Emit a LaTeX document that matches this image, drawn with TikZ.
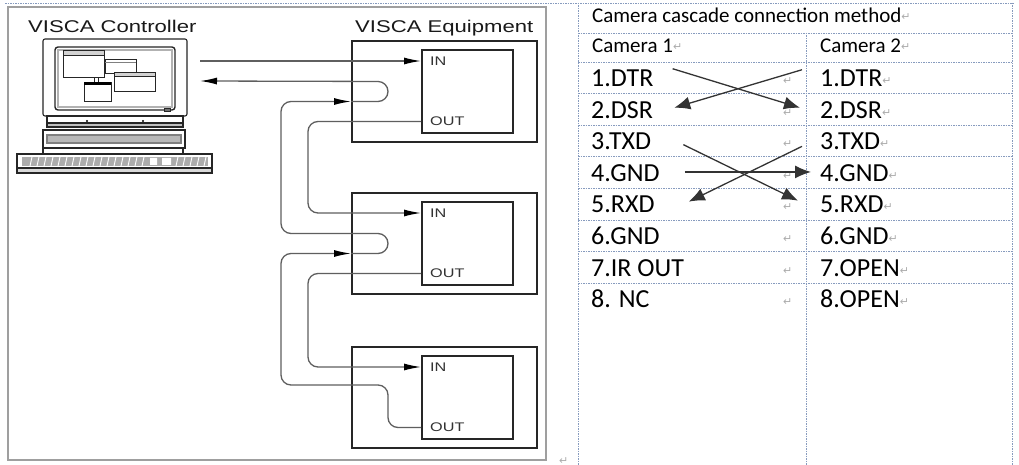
\documentclass[tikz,border=0pt]{standalone}
\usepackage{fontspec}
\usepackage{tikz}
\usetikzlibrary{arrows.meta,backgrounds}
\newfontfamily\visca[FakeStretch=1.3]{Liberation Sans}
\newfontfamily\cali{Carlito}
\newfontfamily\dejavu{DejaVu Sans}
\definecolor{gridblue}{RGB}{135,155,190}
\definecolor{wiregray}{RGB}{95,95,95}
\newcommand{\parmark}{\raisebox{2pt}{\dejavu\fontsize{11}{12}\selectfont\color{gray!65}↵}}

\tikzset{
  equip/.style={draw=black!85, line width=2pt, minimum width=185pt, minimum height=101pt, inner sep=0pt},
  inbox/.style={draw=black!85, line width=2pt, minimum width=91pt, minimum height=83pt, inner sep=0pt},
  port/.style={font=\visca\fontsize{12.5}{14}\selectfont, text=black!80, inner sep=0pt, anchor=west},
  vtitle/.style={font=\visca\fontsize{17}{20}\selectfont, text=black!90, inner sep=0pt, anchor=base west},
  wire/.style={draw=wiregray, line width=1.3pt, rounded corners=10pt, -{Latex[length=17pt,width=7pt,color=black]}},
  cell/.style={font=\cali\fontsize{26}{28}\selectfont, inner sep=0pt, anchor=base west},
  hdr/.style={font=\cali\fontsize{21}{24}\selectfont, inner sep=0pt, anchor=base west},
  pmk/.style={font=\dejavu\fontsize{11}{12}\selectfont, text=gray!65, inner sep=0pt, anchor=base west},
  tabline/.style={draw=gridblue, line width=0.8pt, dash pattern=on 1.5pt off 1pt},
  swap/.style={draw=black!80, line width=1.3pt, -{Latex[length=16pt,width=13pt]}}
}

\begin{document}
\begin{tikzpicture}[x=1pt,y=-1pt]
\fill[white] (0,0) rectangle (1019,465);
\useasboundingbox (0,0) rectangle (1019,465);

\draw[draw=gray!75, line width=1.3pt] (8,7) rectangle (546,460);
\node[vtitle] (ctl) at (28,33) {VISCA Controller};
\node[vtitle] (eqp) at (355,33) {VISCA Equipment};
\node[pmk] (m0) at (559,464) {↵};

\begin{scope}[line width=1.1pt, draw=black!85]
\draw[rounded corners=2pt, fill=white] (43,39) rectangle (187,116);
\draw[rounded corners=3pt, line width=1.4pt] (55,47) rectangle (175,110);
\draw[gray!60, line width=1.5pt] (58,50) rectangle (172,107);
\draw[line width=0.6pt, fill=white] (105,59) rectangle (136,73);
\draw[line width=0.6pt, gray] (105,62) -- (136,62);
\draw[line width=0.6pt, fill=white] (63,50) rectangle (104,77);
\draw[line width=0.6pt, fill=gray!35] (63,50) rectangle (104,55);
\draw[line width=0.6pt, fill=white] (114,72) rectangle (155,91);
\draw[line width=0.6pt, fill=gray!35] (114,72) rectangle (155,76);
\draw[line width=0.6pt, fill=white] (94,77) rectangle (98,82);
\draw[line width=0.6pt, fill=white] (84,82) rectangle (111,101);
\fill (84,82) rectangle (111,85);
\draw[line width=0.6pt] (164,108) rectangle (170,111);
\draw[fill=white] (47,116) rectangle (183,123);
\fill (87,121) circle (1.2pt) (143,121) circle (1.2pt);
\draw[fill=gray!50] (47,123) rectangle (183,127);
\draw[fill=white] (43,130) rectangle (185,148);
\draw[gray, fill=gray!55] (47,135) rectangle (181,143);
\draw[fill=white] (43,148) rectangle (183,154);
\draw[fill=white] (17,154) rectangle (212,168);
\draw[fill=gray!30] (17,168) rectangle (212,173);
\fill[gray!65] (22,157) rectangle (208,166);
\foreach \x in {30,37,...,146,176,183,...,204}
  \draw[white, line width=0.9pt] (\x,166) -- (\x+2,157);
\fill[white] (150,158) rectangle (157,165) (162,158) rectangle (171,165);
\end{scope}

\coordinate (pcout) at (200,61);
\coordinate (pcin) at (200,81);

\foreach \k/\dy in {1/0,2/152,3/306}{
  \node[equip] (equip\k) at (444.5,{91.5+\dy}) {};
  \node[inbox] (inner\k) at (467.5,{91.5+\dy}) {};
  \coordinate (i\k) at ([yshift=30.5pt]inner\k.west);
  \coordinate (o\k) at ([yshift=-30pt]inner\k.west);
  \coordinate (ret\k) at ([yshift=-10pt]equip\k.west);
  \node[port] (li\k) at ([xshift=9pt]i\k) {IN};
  \node[port] (lo\k) at ([xshift=9pt]o\k) {OUT};
}

\draw[wire] (pcout) -- (i1);
\draw[wire] (o1) -- ++(-113,0) |- (i2);
\draw[wire] (o2) -- ++(-113,0) |- (i3);
\draw[wire] (o3) -- ++(-33,0) |- (281,385) |- (ret2);
\draw[wire] (ret2) -- ++(37,0) -- ++(0,-20) -- (281,233.5) |- (ret1);
\draw[wire] (ret1) -- ++(37,0) -- ++(0,-20) -- (pcin);

\draw[tabline] (5,3) -- (1015,3);
\draw[tabline] (578,3) -- (578,465);
\draw[tabline] (1012,3) -- (1012,465);
\draw[tabline] (806,33) -- (806,465);
\foreach \y in {33,62,93.6,125.2,156.8,188.4,220,251.6,283.2}
  \draw[tabline] (578,\y) -- (1012,\y);

\node[hdr] (ttl) at (592,23) {Camera cascade connection method\parmark};
\node[hdr] (h1) at (592,53) {Camera 1\parmark};
\node[hdr] (h2) at (820,53) {Camera 2\parmark};

\foreach \a/\b [count=\r] in {1.DTR/1.DTR, 2.DSR/2.DSR, 3.TXD/3.TXD, 4.GND/4.GND, 5.RXD/5.RXD, 6.GND/6.GND, 7.IR OUT/7.OPEN, 8. NC/8.OPEN}{
  \node[cell] (l\r) at (591,{86.5+31.6*(\r-1)}) {\a};
  \node[cell] (r\r) at (820,{86.5+31.6*(\r-1)}) {\b\parmark};
  \node[pmk] (m\r) at (783,{84.5+31.6*(\r-1)}) {↵};
}

\draw[swap] ([xshift=19pt,yshift=9.5pt]l1.east) -- ([xshift=-20pt,yshift=2pt]r2.west);
\draw[swap] ([xshift=-18pt,yshift=8.5pt]r1.west) -- ([xshift=21pt,yshift=2pt]l2.east);
\draw[swap] ([xshift=32pt,yshift=-3.3pt]l3.east) -- ([xshift=-22pt,yshift=4pt]r5.west);
\draw[swap] ([xshift=-18pt,yshift=-5pt]r3.west) -- ([xshift=34pt,yshift=3pt]l5.east);
\draw[swap] ([xshift=25pt,yshift=1pt]l4.east) -- ([xshift=-9pt,yshift=1pt]r4.west);
\end{tikzpicture}
\end{document}
